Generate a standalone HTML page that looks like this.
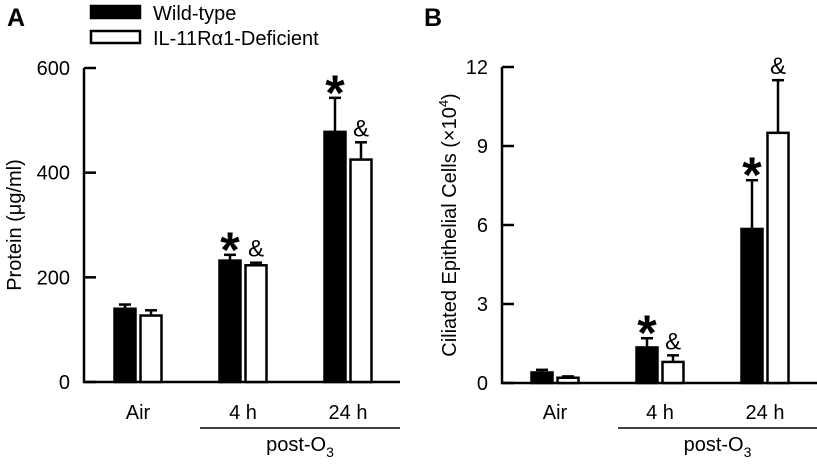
<!DOCTYPE html>
<html><head><meta charset="utf-8"><style>
body{margin:0;background:#fff;}
svg{display:block;font-family:"Liberation Sans",Arial,sans-serif;}
</style></head><body>
<svg id="chart" width="817" height="467"></svg>
<script>
const categories=["Air","4 h","24 h"];
const proteinWT=[140,232,478];
const proteinWTErr=[148,243,543];
const proteinKO=[127,223,425];
const proteinKOErr=[137,228,458];
const proteinTicks=[0,200,400,600];
const cellsWT=[0.4,1.35,5.85];
const cellsWTErr=[0.5,1.7,7.7];
const cellsKO=[0.2,0.8,9.5];
const cellsKOErr=[0.25,1.05,11.5];
const cellsTicks=[0,3,6,9,12];
const wtMarks=["","*","*"];
const koMarks=["","&","&"];

const NS="http://www.w3.org/2000/svg";
const svg=document.getElementById('chart');
function el(t,a,p){const e=document.createElementNS(NS,t);for(const k in a)e.setAttribute(k,a[k]);(p||svg).appendChild(e);return e;}

function panel(o){
  const g=el('g',{});
  
  
  const y=v=>o.y0-(v/o.max)*(o.y0-o.ytop);
  const cx=i=>o.c0+i*o.step;
  const ax=el('path',{d:`M${o.ax},${o.ytop} V${o.y0} H${o.xend}`,stroke:'#000','stroke-width':2.5,fill:'none'},g);
  
  
  o.ticks.forEach(t=>{
    const tk=el('line',{x1:o.ax,x2:o.ax+12,y1:y(t),y2:y(t),stroke:'#000','stroke-width':2.5},g);
    
    
    const tl=el('text',{x:o.ax-14,y:y(t)+7,'text-anchor':'end','font-size':20},g);
    tl.textContent=t;
    
    
  });
  const w=23,gap=3;
  categories.forEach((c,i)=>{
    const x=cx(i);
    [[o.wt,o.wtE,'#000',x-gap/2-w,o.wm,'bar-wild-type'],[o.ko,o.koE,'#fff',x+gap/2,o.km,'bar-il11-deficient']].forEach(s=>{
      const v=s[0][i],e=s[1][i],bx=s[3];
      const ex=bx+w/2;
      const el1=el('line',{x1:ex,x2:ex,y1:y(v),y2:y(e),stroke:'#000','stroke-width':2.5},g);
      
      
      const el2=el('line',{x1:ex-6,x2:ex+6,y1:y(e),y2:y(e),stroke:'#000','stroke-width':2.5},g);
      
      
      const r=el('rect',{x:bx+1,y:y(v),width:w-2,height:o.y0-y(v),fill:s[2],stroke:'#000','stroke-width':2.5},g);
      
      
      const m=s[4][i];
      if(m){
        const isStar=m==='*';
        const t=el('text',{x:ex,y:y(e)+(isStar?12:-6),'text-anchor':'middle','font-size':isStar?50:24,'font-weight':isStar?'bold':'normal'},g);
        t.textContent=m;
        
        
      }
    });
    const lbl=el('text',{x:x,y:419,'text-anchor':'middle','font-size':20},g);
    lbl.textContent=c;
    
    
  });
  const pl=el('line',{x1:o.pl0,x2:o.xend,y1:428,y2:428,stroke:'#000','stroke-width':1.5},g);
  
  
  const pt=el('text',{x:(o.pl0+o.xend)/2,y:451,'text-anchor':'middle','font-size':20},g);
  pt.innerHTML='post-O<tspan font-size="14" dy="6">3</tspan>';
  
  
  const yt=el('text',{transform:`translate(${o.tx},${(o.ytop+o.y0)/2}) rotate(-90)`,'text-anchor':'middle','font-size':20},g);
  yt.innerHTML=o.title;
  
  
  const pL=el('text',{x:o.px,y:26,'font-size':25,'font-weight':'bold'},g);
  pL.textContent=o.letter;
  
  
}

panel({name:'panel-a-protein',ax:84,xend:400,ytop:68,y0:382,max:600,ticks:proteinTicks,c0:138,step:105,
  wt:proteinWT,wtE:proteinWTErr,ko:proteinKO,koE:proteinKOErr,wm:wtMarks,km:koMarks,pl0:200,tx:21,
  title:'Protein (\u03bcg/ml)',px:7,letter:'A'});
panel({name:'panel-b-ciliated-cells',ax:502,xend:817,ytop:67,y0:383,max:12,ticks:cellsTicks,c0:555,step:105,
  wt:cellsWT,wtE:cellsWTErr,ko:cellsKO,koE:cellsKOErr,wm:wtMarks,km:koMarks,pl0:618,tx:456,
  title:'Ciliated Epithelial Cells (\u00d710<tspan font-size="13" dy="-8">4</tspan><tspan dy="8">)</tspan>',px:424,letter:'B'});

const lg=el('g',{});


[['#000','Wild-type',5],['#fff','IL-11R\u03b11-Deficient',30]].forEach(d=>{
  const r=el('rect',{x:91,y:d[2]+1,width:49,height:12,fill:d[0],stroke:'#000','stroke-width':2.5},lg);
  
  
  const t=el('text',{x:153,y:d[2]+15,'font-size':20},lg);
  t.textContent=d[1];
  
  
});
</script>
</body></html>
